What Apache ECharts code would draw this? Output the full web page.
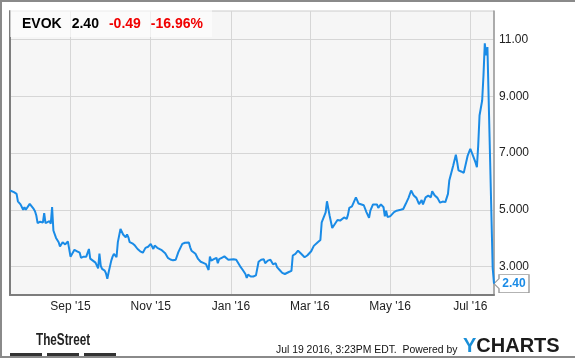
<!DOCTYPE html>
<html>
<head>
<meta charset="utf-8">
<script src="https://cdn.jsdelivr.net/npm/echarts@6/dist/echarts.min.js"></script>
<style>
html,body{margin:0;padding:0;background:#fff;}
#wrap{position:relative;width:575px;height:358px;overflow:hidden;}
#chart{position:absolute;left:0;top:0;width:575px;height:358px;}
#frame{position:absolute;left:0;top:0;width:575px;height:358px;box-sizing:border-box;border:2px solid #8a8a8a;border-right:none;pointer-events:none;}
</style>
</head>
<body>
<div id="wrap"><div id="chart"></div><div id="frame"></div></div>
<script>
const ticker = 'EVOK';
const lastPrice = '2.40';
const change = '-0.49';
const changePct = '-16.96%';
const stamp = 'Jul 19 2016, 3:23PM EDT.  Powered by';

const dates = [
'2015-07-17','2015-07-20','2015-07-22','2015-07-23','2015-07-25','2015-07-27','2015-07-28','2015-07-29','2015-07-30',
'2015-08-01','2015-08-02','2015-08-04','2015-08-05','2015-08-06','2015-08-07','2015-08-09','2015-08-10','2015-08-11',
'2015-08-12','2015-08-13','2015-08-14','2015-08-16','2015-08-17','2015-08-18','2015-08-19','2015-08-20','2015-08-21',
'2015-08-23','2015-08-24','2015-08-25','2015-08-26','2015-08-27','2015-08-28','2015-08-29','2015-08-30','2015-08-31',
'2015-09-01','2015-09-02','2015-09-04','2015-09-06','2015-09-08','2015-09-09','2015-09-11','2015-09-13','2015-09-14',
'2015-09-15','2015-09-16','2015-09-18','2015-09-20','2015-09-21','2015-09-22','2015-09-23','2015-09-24','2015-09-25',
'2015-09-27','2015-09-28','2015-09-29','2015-09-30','2015-10-02','2015-10-03','2015-10-04','2015-10-05','2015-10-06',
'2015-10-07','2015-10-09','2015-10-10','2015-10-11','2015-10-13','2015-10-14','2015-10-15','2015-10-16','2015-10-18',
'2015-10-20','2015-10-22','2015-10-24','2015-10-26','2015-10-28','2015-10-30','2015-11-01','2015-11-03','2015-11-04',
'2015-11-06','2015-11-09','2015-11-12','2015-11-14','2015-11-16','2015-11-18','2015-11-20','2015-11-22','2015-11-25',
'2015-11-27','2015-11-30','2015-12-01','2015-12-02','2015-12-03','2015-12-05','2015-12-07','2015-12-09','2015-12-11',
'2015-12-13','2015-12-14','2015-12-15','2015-12-16','2015-12-17','2015-12-19','2015-12-21','2015-12-22','2015-12-23',
'2015-12-25','2015-12-27','2015-12-28','2015-12-30','2015-12-31','2016-01-03','2016-01-05','2016-01-08','2016-01-10',
'2016-01-12','2016-01-13','2016-01-14','2016-01-16','2016-01-18','2016-01-20','2016-01-22','2016-01-24','2016-01-26',
'2016-01-27','2016-01-29','2016-01-31','2016-02-02','2016-02-04','2016-02-05','2016-02-07','2016-02-09','2016-02-11',
'2016-02-14','2016-02-16','2016-02-17','2016-02-19','2016-02-21','2016-02-23','2016-02-26','2016-02-28','2016-03-02',
'2016-03-04','2016-03-07','2016-03-09','2016-03-10','2016-03-13','2016-03-14','2016-03-16','2016-03-18','2016-03-20',
'2016-03-22','2016-03-24','2016-03-27','2016-03-29','2016-03-30','2016-03-31','2016-04-02','2016-04-05','2016-04-06',
'2016-04-07','2016-04-08','2016-04-11','2016-04-13','2016-04-15','2016-04-16','2016-04-18','2016-04-21','2016-04-22',
'2016-04-24','2016-04-25','2016-04-26','2016-04-27','2016-04-28','2016-04-29','2016-05-01','2016-05-04','2016-05-06',
'2016-05-09','2016-05-11','2016-05-13','2016-05-15','2016-05-17','2016-05-19','2016-05-21','2016-05-23','2016-05-25',
'2016-05-26','2016-05-28','2016-05-30','2016-06-01','2016-06-02','2016-06-04','2016-06-06','2016-06-08','2016-06-10',
'2016-06-12','2016-06-13','2016-06-14','2016-06-15','2016-06-16','2016-06-18','2016-06-20','2016-06-21','2016-06-22',
'2016-06-24','2016-06-26','2016-06-27','2016-06-29','2016-06-30','2016-07-01','2016-07-03','2016-07-05','2016-07-06',
'2016-07-07','2016-07-08','2016-07-10','2016-07-11','2016-07-12','2016-07-13','2016-07-14','2016-07-15','2016-07-18',
'2016-07-19'
];
const prices = [
5.68,5.62,5.56,5.30,5.19,5.00,5.09,5.00,5.07,
5.21,5.16,5.03,4.95,4.80,4.53,4.58,4.53,4.55,
4.88,4.53,4.58,4.60,4.51,5.10,4.27,4.21,4.01,
3.86,3.71,3.71,3.86,3.92,3.78,3.82,3.89,3.89,
3.35,3.33,3.59,3.54,3.49,3.31,3.35,3.35,3.42,
3.62,3.28,3.21,3.14,3.08,2.94,3.46,3.03,2.92,
2.86,2.76,2.57,2.80,3.21,3.35,3.45,3.47,3.33,
3.86,4.33,4.27,4.13,4.03,4.13,4.03,3.86,3.82,
3.74,3.62,3.54,3.49,3.66,3.70,3.80,3.62,3.74,
3.66,3.59,3.47,3.31,3.25,3.22,3.24,3.51,3.80,
3.84,3.85,3.68,3.56,3.62,3.45,3.27,3.17,3.13,
3.09,3.07,2.88,3.35,3.21,3.26,3.31,3.12,3.26,
3.31,3.36,3.41,3.24,3.29,3.26,3.24,3.01,2.88,
2.74,2.60,2.72,2.65,2.65,2.69,3.17,3.24,3.26,
3.12,3.21,3.24,3.08,3.12,2.98,2.88,2.78,2.74,
2.81,2.85,3.39,3.45,3.56,3.47,3.33,3.39,3.54,
3.73,3.86,3.94,4.56,4.91,5.30,4.80,4.36,4.50,
4.64,4.62,4.73,4.68,4.83,5.07,5.12,5.44,5.33,
5.22,5.19,5.16,4.92,4.72,4.97,5.19,5.19,5.07,
5.19,5.24,5.09,4.77,4.97,4.75,4.77,4.92,4.97,
5.00,5.03,5.22,5.42,5.68,5.50,5.42,5.20,5.34,
5.19,5.44,5.50,5.44,5.65,5.50,5.42,5.25,5.29,
5.27,5.29,5.56,6.03,6.07,6.56,6.94,6.68,6.39,
6.35,6.30,6.27,6.91,6.85,7.15,6.91,6.66,6.50,
7.27,8.32,8.85,9.73,10.86,10.44,10.73,10.71,2.95,
2.40
];

const xRange = ['2015-07-17', '2016-07-19'];
const xTickDates = ['2015-09-01','2015-11-01','2016-01-01','2016-03-01','2016-05-01','2016-07-01'];
const xTickLabels = ["Sep '15","Nov '15","Jan '16","Mar '16","May '16","Jul '16"];
const yRange = [2, 12];
const yTicks = [3, 5, 7, 9, 11];
const yTickLabels = ['3.000','5.000','7.000','9.000','11.00'];

function ts(s){ const p = s.split('-').map(Number); return new Date(p[0], p[1]-1, p[2]).getTime(); }

const BLUE = '#1a8be6';
const FONT = '"Liberation Sans", Arial, sans-serif';
const seriesData = dates.map((d, i) => [ts(d), prices[i]]);
const xTickTs = xTickDates.map(ts);
const lastIdx = dates.length - 1;

const chart = echarts.init(document.getElementById('chart'), null, {renderer: 'canvas'});
chart.setOption({
  animation: false,
  backgroundColor: '#ffffff',
  textStyle: {fontFamily: FONT},
  grid: {left: 10, top: 11, width: 484, height: 284, show: true, backgroundColor: '#f6f6f6', borderColor: '#cccccc', borderWidth: 1, containLabel: false},
  title: {
    left: 22, top: 16, padding: 0, z: 20,
    text: '{k|' + ticker + '}  {p|' + lastPrice + '}  {r|' + change + '}  {r|' + changePct + '}',
    textStyle: {
      fontFamily: FONT, lineHeight: 16,
      rich: {
        k: {fontSize: 14, fontWeight: 'bold', color: '#000', fontFamily: FONT},
        p: {fontSize: 14, fontWeight: 'bold', color: '#000', fontFamily: FONT},
        r: {fontSize: 14, fontWeight: 'bold', color: '#f00000', fontFamily: FONT}
      }
    }
  },
  xAxis: {
    type: 'value',
    min: ts(xRange[0]), max: ts(xRange[1]),
    axisLine: {show: true, onZero: false, lineStyle: {color: '#7d7d7d', width: 2}},
    axisTick: {show: false, customValues: xTickTs},
    axisLabel: {
      customValues: xTickTs, margin: 6, fontSize: 12, color: '#222', fontFamily: FONT,
      formatter: function (v) { const i = xTickTs.indexOf(v); return i >= 0 ? xTickLabels[i] : ''; }
    },
    splitLine: {show: true, lineStyle: {color: '#d6d6d6', width: 1}}
  },
  yAxis: [{
    type: 'value', position: 'right',
    min: yRange[0], max: yRange[1],
    axisLine: {show: true, onZero: false, lineStyle: {color: '#999', width: 1.5}},
    axisTick: {show: false, customValues: yTicks},
    axisLabel: {
      customValues: yTicks, margin: 5, fontSize: 12, color: '#222', fontFamily: FONT,
      formatter: function (v) { const i = yTicks.indexOf(v); return i >= 0 ? yTickLabels[i] : ''; }
    },
    splitLine: {show: true, lineStyle: {color: '#d6d6d6', width: 1}}
  }, {
    type: 'value', position: 'left',
    min: yRange[0], max: yRange[1],
    axisLine: {show: true, onZero: false, lineStyle: {color: '#7d7d7d', width: 2}},
    axisTick: {show: false}, axisLabel: {show: false}, splitLine: {show: false}
  }],
  series: [{
    type: 'line',
    yAxisIndex: 0,
    data: seriesData,
    showSymbol: false,
    symbol: 'none',
    lineStyle: {color: BLUE, width: 2},
    z: 5,
    markPoint: {
      symbol: 'path://M0,9 L5,4 L5,0 L35,0 L35,18 L5,18 L5,14 Z',
      symbolSize: [35, 18],
      symbolOffset: [17.5, 0],
      itemStyle: {color: '#ffffff', borderColor: '#9a9a9a', borderWidth: 1},
      label: {
        show: true, color: BLUE, fontWeight: 'bold', fontSize: 12, fontFamily: FONT, offset: [2.5, 0],
        formatter: function () { return prices[lastIdx].toFixed(2); }
      },
      data: [{coord: [seriesData[lastIdx][0], prices[lastIdx]]}]
    }
  }],
  graphic: [
    {type: 'rect', z: 15, shape: {x: 10, y: 10, width: 202, height: 27}, style: {fill: 'rgba(255,255,255,0.6)'}},
    {type: 'text', z: 15, x: 36, y: 332, scaleX: 0.69, style: {text: 'TheStreet', font: 'bold 17px ' + FONT, fill: '#222'}},
    {type: 'rect', z: 15, shape: {x: 10, y: 353, width: 32, height: 4}, style: {fill: '#333'}},
    {type: 'rect', z: 15, shape: {x: 47, y: 353, width: 32, height: 4}, style: {fill: '#333'}},
    {type: 'rect', z: 15, shape: {x: 84, y: 353, width: 32, height: 4}, style: {fill: '#333'}},
    {type: 'text', z: 15, x: 276, y: 345, style: {text: stamp, font: '10.4px ' + FONT, fill: '#111'}},
    {type: 'text', z: 15, x: 463, y: 336, style: {
      text: '{y|Y}{c|CHARTS}',
      rich: {
        y: {fontSize: 20, fontWeight: 'bold', fill: '#1a8fd8', fontFamily: FONT},
        c: {fontSize: 20, fontWeight: 'bold', fill: '#1b1b1b', fontFamily: FONT}
      }
    }}
  ]
});
</script>
</body>
</html>
